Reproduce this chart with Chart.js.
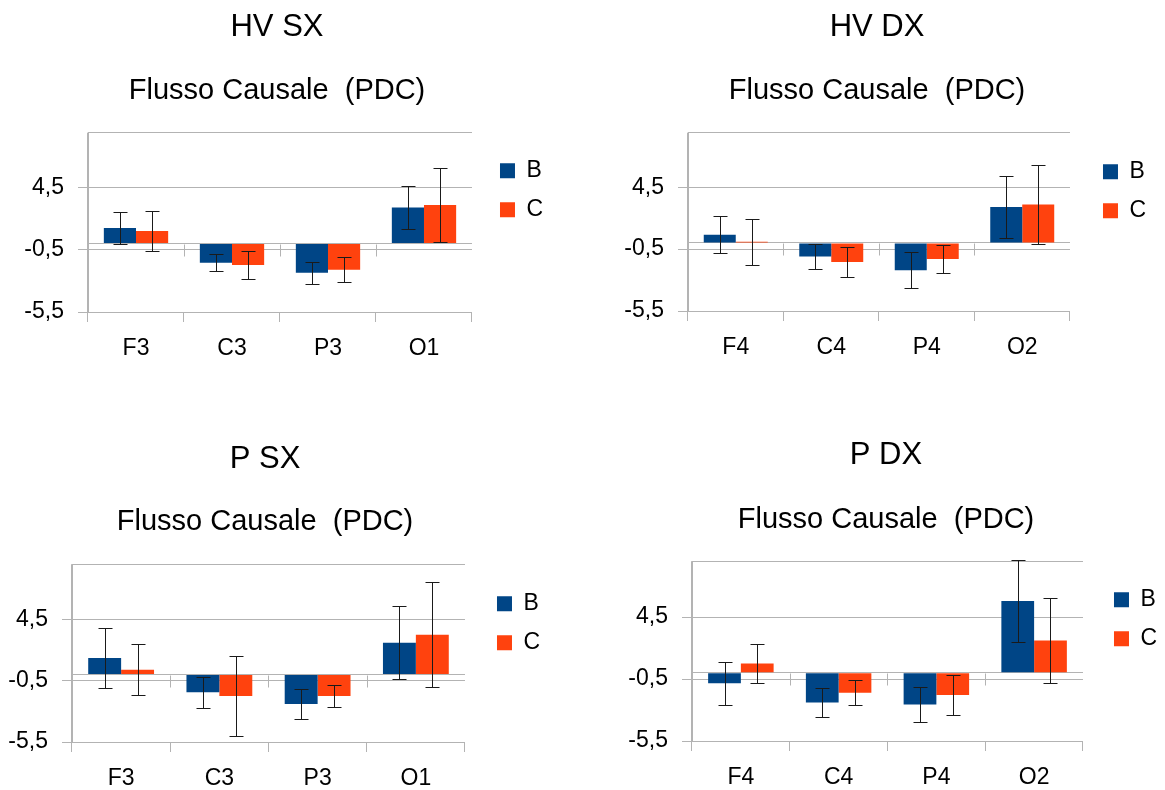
<!DOCTYPE html>
<html>
<head>
<meta charset="utf-8">
<title>Flusso Causale (PDC)</title>
<script src="https://cdn.jsdelivr.net/npm/chart.js@4.4.1/dist/chart.umd.min.js"></script>
<style>
  html, body { margin: 0; padding: 0; background: #ffffff; width: 1165px; height: 790px; overflow: hidden; }
  body { position: relative; }
  canvas { position: absolute; }
</style>
</head>
<body>
<canvas id="hvSx"></canvas>
<canvas id="hvDx"></canvas>
<canvas id="pSx"></canvas>
<canvas id="pDx"></canvas>
<script>
// ---- data ----
const seriesNames = ['B', 'C'];
const leftCategories = ['F3', 'C3', 'P3', 'O1'];
const rightCategories = ['F4', 'C4', 'P4', 'O2'];
const tickValues = [-5.5, -0.5, 4.5];
const tickLabels = ['-5,5', '-0,5', '4,5'];
const subtitleText = 'Flusso Causale  (PDC)';

// HV SX
const hvSxB = [1.25, -1.55, -2.35, 2.9];
const hvSxErrB = [1.3, 0.68, 0.87, 1.7];
const hvSxC = [1.0, -1.72, -2.1, 3.1];
const hvSxErrC = [1.6, 1.1, 1.0, 3.0];

// HV DX
const hvDxB = [0.65, -1.1, -2.2, 2.9];
const hvDxErrB = [1.5, 1.0, 1.45, 2.5];
const hvDxC = [0.1, -1.55, -1.3, 3.1];
const hvDxErrC = [1.85, 1.2, 1.1, 3.2];

// P SX
const pSxB = [1.35, -1.45, -2.4, 2.6];
const pSxErrB = [2.45, 1.25, 1.22, 3.0];
const pSxC = [0.4, -1.75, -1.75, 3.25];
const pSxErrC = [2.1, 3.25, 0.87, 4.3];

// P DX
const pDxB = [-0.85, -2.4, -2.55, 5.8];
const pDxErrB = [1.75, 1.16, 1.4, 3.28];
const pDxC = [0.75, -1.6, -1.8, 2.6];
const pDxErrC = [1.6, 1.0, 1.62, 3.4];

// ---- styling ----
const FONT = "'Liberation Sans', Arial, Helvetica, sans-serif";
const GRID = '#b3b3b3';
const COLOR_B = '#004586';
const COLOR_C = '#ff420e';

// panel geometry (canvas placement, paddings, axis sizes)
const panelLayout = {
  hvSx: { left: 0,   top: 0,   width: 582, height: 362, padL: 12.9, padR: 40.9, yW: 75.1, yMax: 8.9,
          titleTop: 8.4,  subTop: 28.1, subBottom: 24.2, legendDx: 12, legendDy: 10.5 },
  hvDx: { left: 582, top: 0,   width: 583, height: 361, padL: 32.9, padR: 25.9, yW: 73.1, yMax: 8.9,
          titleTop: 8.4,  subTop: 28.1, subBottom: 24.2, legendDx: 17, legendDy: 11.5 },
  pSx:  { left: -20, top: 400, width: 582, height: 392, padL: 15.9, padR: 27.9, yW: 76.1, yMax: 9.0,
          titleTop: 40.9, subTop: 26.6, subBottom: 24.7, legendDx: 16, legendDy: 12 },
  pDx:  { left: 582, top: 400, width: 583, height: 391, padL: 37.9, padR: 12.9, yW: 72.1, yMax: 9.0,
          titleTop: 36.9, subTop: 28.6, subBottom: 23.7, legendDx: 15, legendDy: 11 }
};

const panels = [
  { id: 'hvSx', title: 'HV SX', categories: leftCategories,  b: hvSxB, errB: hvSxErrB, c: hvSxC, errC: hvSxErrC },
  { id: 'hvDx', title: 'HV DX', categories: rightCategories, b: hvDxB, errB: hvDxErrB, c: hvDxC, errC: hvDxErrC },
  { id: 'pSx',  title: 'P SX',  categories: leftCategories,  b: pSxB,  errB: pSxErrB,  c: pSxC,  errC: pSxErrC },
  { id: 'pDx',  title: 'P DX',  categories: rightCategories, b: pDxB,  errB: pDxErrB,  c: pDxC,  errC: pDxErrC }
];

// moves the legend block by a fixed offset after layout
const legendNudge = {
  id: 'legendNudge',
  afterLayout(chart, args, opts) {
    const lg = chart.legend;
    if (!lg) return;
    const dx = opts.dx || 0, dy = opts.dy || 0;
    lg.left += dx; lg.right += dx;
    lg.top += dy; lg.bottom += dy;
  }
};

// short category-boundary ticks hanging below the zero line
const zeroTicks = {
  id: 'zeroTicks',
  beforeDatasetsDraw(chart) {
    const x = chart.scales.x, y = chart.scales.y;
    const y0 = Math.round(y.getPixelForValue(0)) + 0.5;
    const n = x.ticks.length;
    const ctx = chart.ctx;
    ctx.save();
    ctx.strokeStyle = GRID;
    ctx.lineWidth = 1;
    ctx.beginPath();
    for (let i = 1; i < n; i++) {
      const px = Math.round((x.getPixelForTick(i - 1) + x.getPixelForTick(i)) / 2) + 0.5;
      ctx.moveTo(px, y0);
      ctx.lineTo(px, y0 + 12);
    }
    ctx.stroke();
    ctx.restore();
  }
};

// vertical error bars with caps, one per bar
const errorBars = {
  id: 'errorBars',
  afterDatasetsDraw(chart, args, opts) {
    const y = chart.scales.y;
    const ctx = chart.ctx;
    const cap = opts.capWidth || 14;
    ctx.save();
    ctx.strokeStyle = opts.color || '#1a1a1a';
    ctx.lineWidth = 1;
    chart.data.datasets.forEach((ds, di) => {
      const meta = chart.getDatasetMeta(di);
      meta.data.forEach((bar, j) => {
        const v = ds.data[j], e = ds.errors[j];
        const x = Math.round(bar.x) + 0.5;
        const yTop = Math.round(y.getPixelForValue(v + e)) + 0.5;
        const yBot = Math.round(y.getPixelForValue(v - e)) + 0.5;
        ctx.beginPath();
        ctx.moveTo(x, yTop); ctx.lineTo(x, yBot);
        ctx.moveTo(x - cap / 2, yTop); ctx.lineTo(x + cap / 2, yTop);
        ctx.moveTo(x - cap / 2, yBot); ctx.lineTo(x + cap / 2, yBot);
        ctx.stroke();
      });
    });
    ctx.restore();
  }
};

function buildChart(panel) {
  const L = panelLayout[panel.id];
  const canvas = document.getElementById(panel.id);
  canvas.width = L.width;
  canvas.height = L.height;
  canvas.style.left = L.left + 'px';
  canvas.style.top = L.top + 'px';
  const nCat = panel.categories.length;

  return new Chart(canvas, {
    type: 'bar',
    data: {
      labels: panel.categories,
      datasets: [
        { label: seriesNames[0], data: panel.b, errors: panel.errB, backgroundColor: COLOR_B, borderWidth: 0 },
        { label: seriesNames[1], data: panel.c, errors: panel.errC, backgroundColor: COLOR_C, borderWidth: 0 }
      ]
    },
    options: {
      responsive: false,
      animation: false,
      devicePixelRatio: 1,
      categoryPercentage: 0.67,
      barPercentage: 1.0,
      layout: { padding: { left: L.padL, right: L.padR, top: 0, bottom: 0 } },
      plugins: {
        title: {
          display: true, text: panel.title, color: '#000',
          font: { family: FONT, size: 31, weight: 'normal' },
          padding: { top: L.titleTop, bottom: 0 }
        },
        subtitle: {
          display: true, text: subtitleText, color: '#000',
          font: { family: FONT, size: 29, weight: 'normal' },
          padding: { top: L.subTop, bottom: L.subBottom }
        },
        legend: {
          display: true, position: 'right', align: 'start', fullSize: false,
          labels: {
            boxWidth: 15, boxHeight: 15, padding: 16, color: '#000',
            font: { family: FONT, size: 23 }
          }
        },
        tooltip: { enabled: false },
        legendNudge: { dx: L.legendDx, dy: L.legendDy },
        errorBars: { capWidth: 14, color: '#1a1a1a' }
      },
      scales: {
        x: {
          offset: true,
          grid: {
            offset: true,
            drawOnChartArea: true,
            color: ctx => (ctx.index === 0 || ctx.index === nCat) ? GRID : 'rgba(0,0,0,0)',
            tickColor: GRID,
            tickLength: 10,
            lineWidth: 1
          },
          border: { display: true, color: GRID },
          ticks: { color: '#000', font: { family: FONT, size: 23 }, padding: 13, maxRotation: 0, autoSkip: false },
          afterFit: s => { s.height = 50; }
        },
        y: {
          min: -5.5, max: L.yMax, bounds: 'data',
          afterBuildTicks: s => {
            s.ticks = [...tickValues, 0, L.yMax].sort((a, b) => a - b).map(v => ({ value: v }));
          },
          ticks: {
            color: '#000', font: { family: FONT, size: 23 }, padding: 14,
            callback: v => { const i = tickValues.indexOf(v); return i < 0 ? '' : tickLabels[i]; }
          },
          grid: {
            color: GRID, lineWidth: 1, tickLength: 10,
            tickColor: ctx => (ctx.tick && tickValues.includes(ctx.tick.value)) ? GRID : 'rgba(0,0,0,0)'
          },
          border: { display: true, color: GRID },
          afterFit: s => { s.width = L.yW; }
        }
      }
    },
    plugins: [legendNudge, zeroTicks, errorBars]
  });
}

panels.forEach(buildChart);
</script>
</body>
</html>
